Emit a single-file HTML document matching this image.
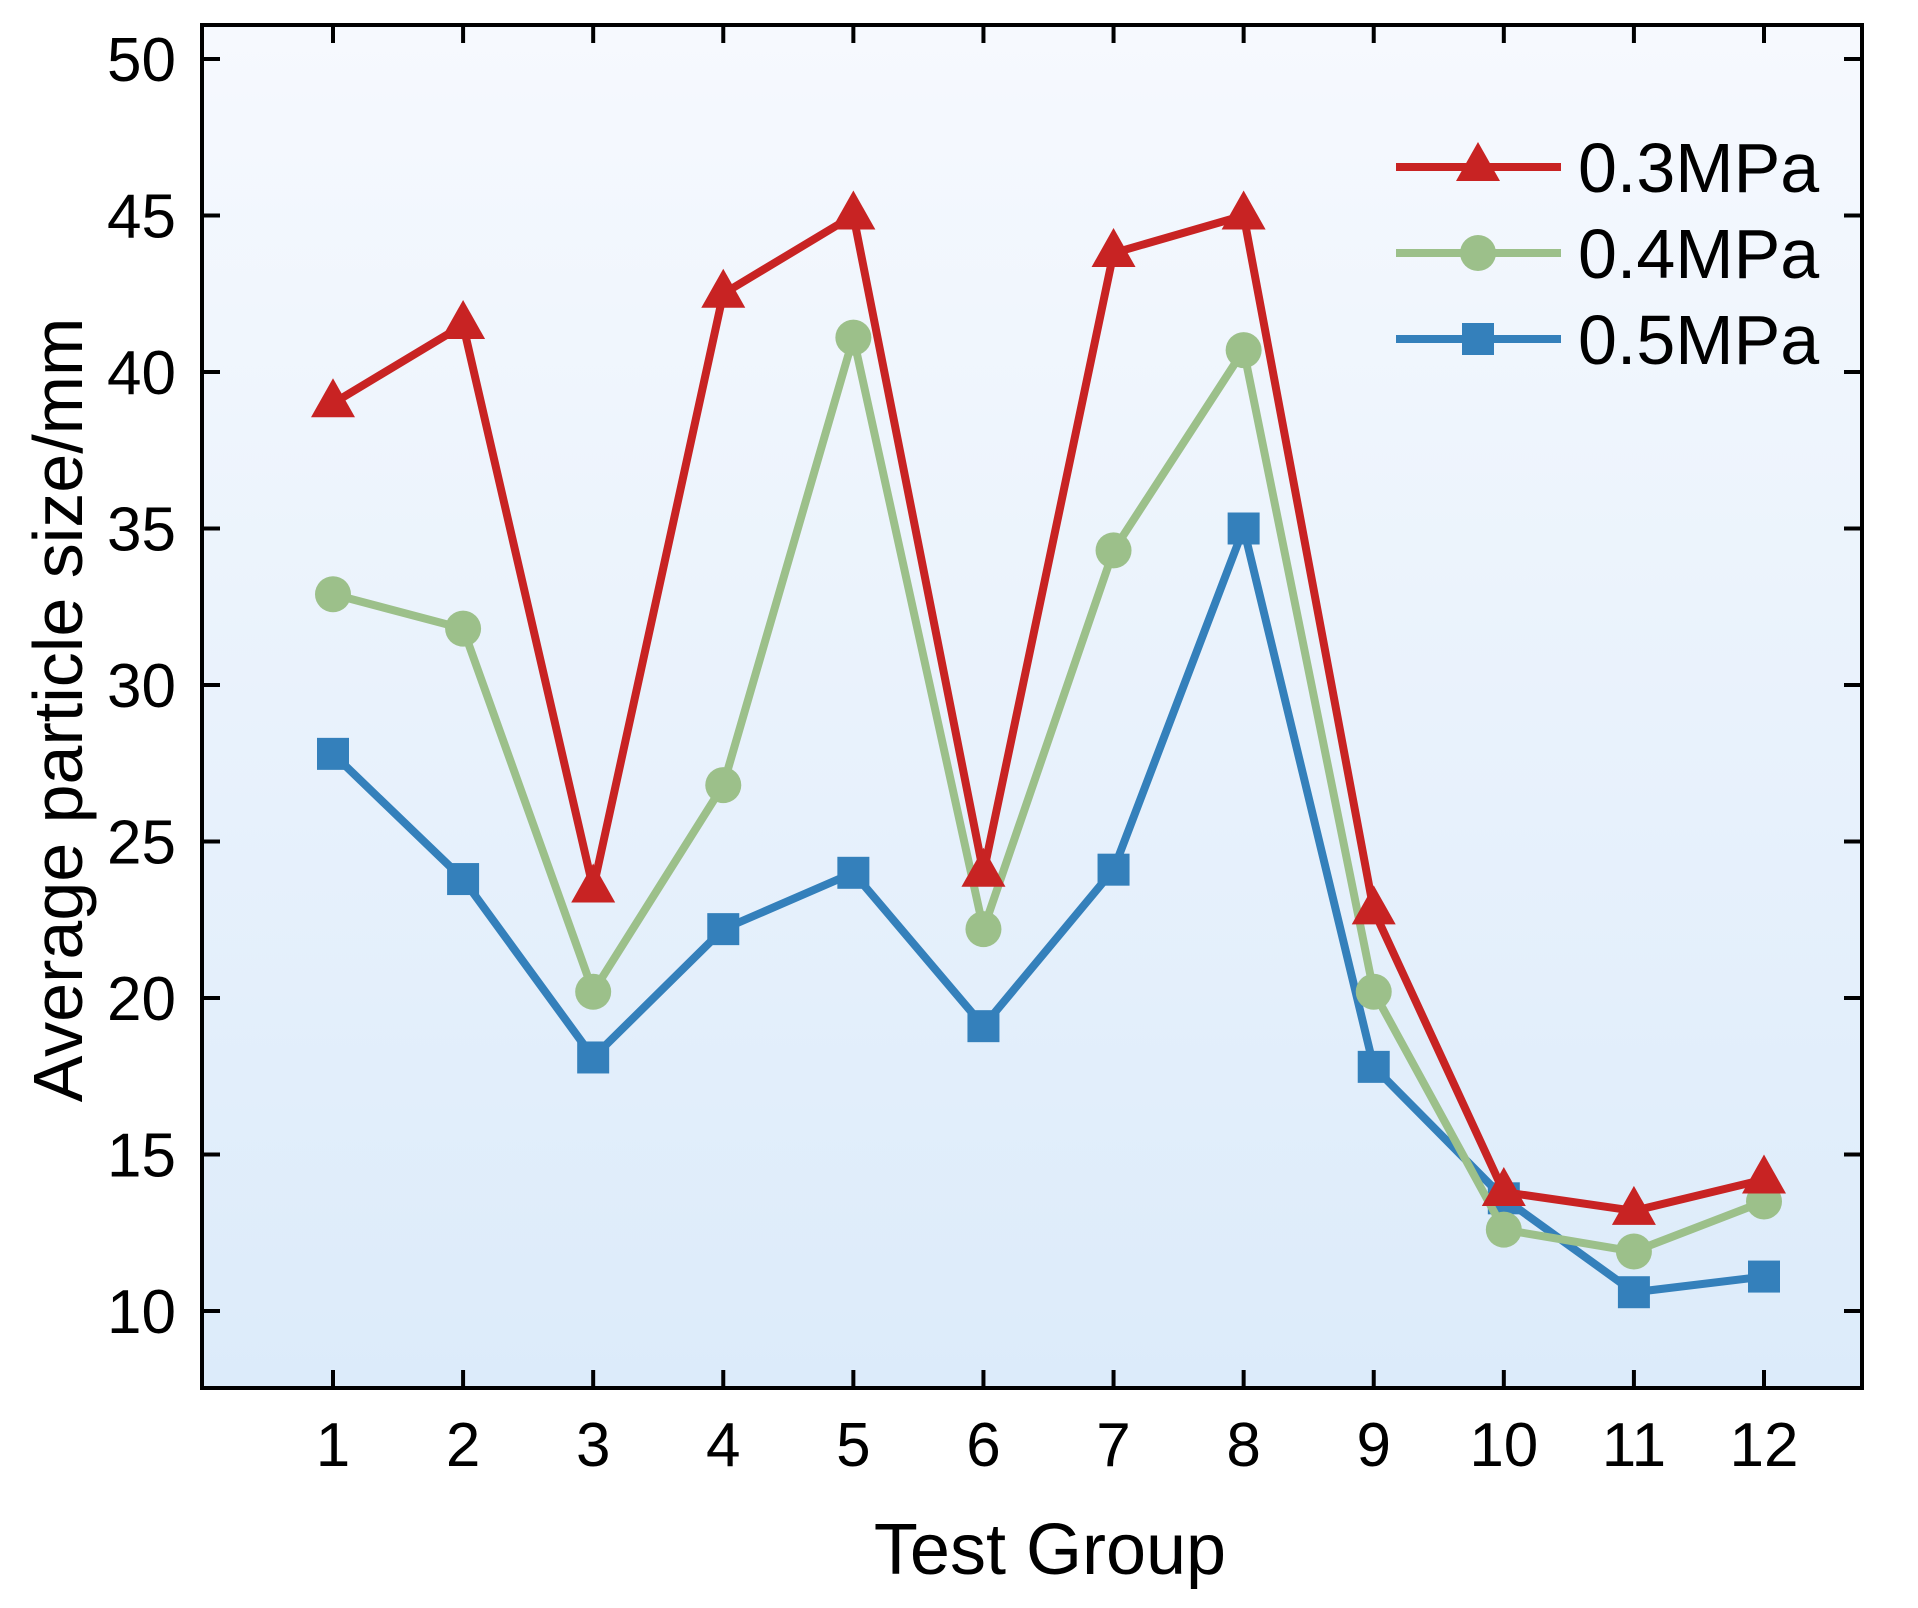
<!DOCTYPE html>
<html><head><meta charset="utf-8"><style>
html,body{margin:0;padding:0;background:#fff;}
svg{display:block;font-family:"Liberation Sans",Arial,sans-serif;}
</style></head><body>
<svg id="chart" width="1918" height="1608" viewBox="0 0 1918 1608" xmlns="http://www.w3.org/2000/svg">
<defs><linearGradient id="bg" x1="0" y1="0" x2="0" y2="1"><stop offset="0" stop-color="#f6f9fe"/><stop offset="1" stop-color="#dcebfa"/></linearGradient></defs>
<rect x="202" y="25" width="1660" height="1363" fill="url(#bg)"/>
<g id="series"></g>
<rect x="202" y="25" width="1660" height="1363" fill="none" stroke="#000" stroke-width="4"/>
<g id="axes"></g>
<text x="1050" y="1574" font-size="72" text-anchor="middle">Test Group</text>
<text transform="translate(82,710) rotate(-90)" font-size="70" text-anchor="middle">Average particle size/mm</text>
<g id="legend"></g>
</svg>
<script>
const categories = [1,2,3,4,5,6,7,8,9,10,11,12];
const yTicks = [10,15,20,25,30,35,40,45,50];
const seriesNames = ["0.3MPa","0.4MPa","0.5MPa"];
const s03 = [39.0,41.5,23.5,42.5,45.0,24.0,43.8,45.0,22.8,13.8,13.2,14.2];
const s04 = [32.9,31.8,20.2,26.8,41.1,22.2,34.3,40.7,20.2,12.6,11.9,13.5];
const s05 = [27.8,23.8,18.1,22.2,24.0,19.1,24.1,35.0,17.8,13.6,10.6,11.1];

const NS="http://www.w3.org/2000/svg";
function X(c){return 333+(c-1)*(1764-333)/11;}
function Y(v){return 59+(50-v)*(1311-59)/40;}
function mk(tag,attrs,parent){const e=document.createElementNS(NS,tag);for(const k in attrs)e.setAttribute(k,attrs[k]);parent.appendChild(e);return e;}
const axes=document.getElementById('axes');
yTicks.forEach(v=>{
  const l=mk('line',{x1:202,x2:220,y1:Y(v),y2:Y(v),stroke:'#000','stroke-width':4},axes);
  
  
  const r=mk('line',{x1:1844,x2:1862,y1:Y(v),y2:Y(v),stroke:'#000','stroke-width':4},axes);
  
  
  const t=mk('text',{x:176,y:Y(v)+22,'font-size':62,'text-anchor':'end'},axes);
  t.textContent=v;
  
  
});
categories.forEach(c=>{
  const l=mk('line',{x1:X(c),x2:X(c),y1:1370,y2:1388,stroke:'#000','stroke-width':4},axes);
  
  
  const u=mk('line',{x1:X(c),x2:X(c),y1:25,y2:43,stroke:'#000','stroke-width':4},axes);
  
  
  const t=mk('text',{x:X(c),y:1466,'font-size':62,'text-anchor':'middle'},axes);
  t.textContent=c;
  
  
});
function marker(type,x,y,color,g){
  let e;
  if(type==='tri') e=mk('polygon',{points:`${x},${y-25} ${x-22},${y+14} ${x+22},${y+14}`,fill:color},g);
  else if(type==='circ') e=mk('circle',{cx:x,cy:y,r:18,fill:color},g);
  else e=mk('rect',{x:x-16,y:y-16,width:32,height:32,fill:color},g);
  return e;
}
const defs=[[s03,'#c82323','tri','series-0.3mpa'],[s04,'#9cc08a','circ','series-0.4mpa'],[s05,'#3480bb','sq','series-0.5mpa']];
const sg=document.getElementById('series');
[defs[2],defs[1],defs[0]].forEach(([vals,color,type,name])=>{
  const g=mk('g',{},sg);
  
  
  const p=mk('polyline',{points:vals.map((v,i)=>X(categories[i])+','+Y(v)).join(' '),fill:'none',stroke:color,'stroke-width':8,'stroke-linejoin':'round'},g);
  
  
  vals.forEach((v,i)=>{
    const m=marker(type,X(categories[i]),Y(v),color,g);
    
    
  });
});
const lg=document.getElementById('legend');
defs.forEach(([vals,color,type,name],i)=>{
  const y=167+i*86;
  const g=mk('g',{},lg);
  
  
  const l=mk('line',{x1:1396,x2:1561,y1:y,y2:y,stroke:color,'stroke-width':8},g);
  
  
  const m=marker(type,1478,y,color,g);
  
  
  const t=mk('text',{x:1578,y:y+25,'font-size':70},g);
  t.textContent=seriesNames[i];
  
  
});
</script>
</body></html>
